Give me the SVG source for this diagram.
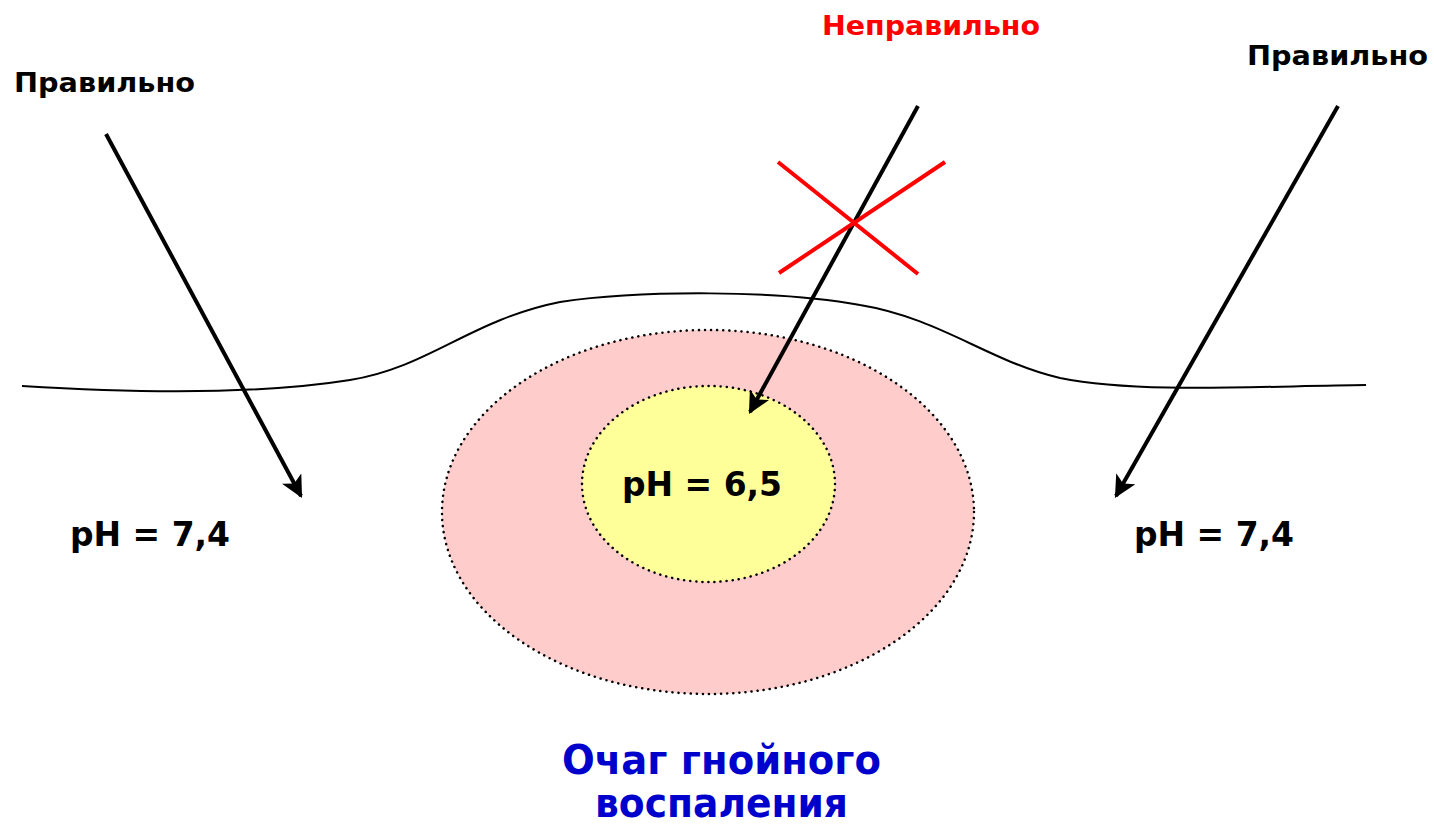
<svg xmlns="http://www.w3.org/2000/svg" width="1434" height="828" viewBox="0 0 1434 828">
<defs>
<style>
text{font-family:"DejaVu Sans","Liberation Sans",sans-serif;font-weight:bold}
.lbl{font-size:27px;fill:#000}
.ph{font-size:33px;fill:#000}
.cap{font-size:40px;fill:#0000CC}
.arr{stroke:#000;stroke-width:4;fill:none;marker-end:url(#ah)}
.zone{stroke:#000;stroke-width:2.5;stroke-dasharray:0.1 6;stroke-linecap:round}
</style>
<marker id="ah" viewBox="0 0 10 10" refX="9" refY="5" markerWidth="5.5" markerHeight="5.5" markerUnits="strokeWidth" orient="auto">
<path d="M0,0 L10,5 L0,10 L2.5,5 z" fill="#000"/>
</marker>
</defs>
<rect width="1434" height="828" fill="#fff"/>
<g id="skin">
<path d="M22,386 C120,392 250,396 350,380 C430,367 470,320 560,302 C640,290 780,290 860,305 C940,318 990,362 1060,378 C1140,394 1260,386 1366,385" fill="none" stroke="#000" stroke-width="2"/>
</g>
<g id="outer-zone">
<ellipse class="zone" cx="708" cy="512" rx="266" ry="182" fill="#FFCCCC"/>
</g>
<g id="inner-zone">
<ellipse class="zone" cx="708.5" cy="484" rx="126.5" ry="98" fill="#FFFF99"/>
<text class="ph" x="622" y="496" textLength="160" lengthAdjust="spacingAndGlyphs">pH = 6,5</text>
</g>
<g id="connectors">
<line class="arr" x1="106" y1="134" x2="301" y2="496"/>
<line class="arr" x1="918" y1="106" x2="750" y2="412"/>
<line class="arr" x1="1338" y1="106" x2="1116" y2="496"/>
</g>
<g id="cross">
<line x1="778" y1="162" x2="918" y2="274" stroke="#FF0000" stroke-width="4"/>
<line x1="779" y1="273" x2="945" y2="162" stroke="#FF0000" stroke-width="4"/>
</g>
<g id="label-left">
<text class="lbl" x="14" y="92" textLength="181" lengthAdjust="spacingAndGlyphs">Правильно</text>
</g>
<g id="label-wrong">
<text class="lbl" x="822" y="35" style="fill:#FF0000" textLength="218" lengthAdjust="spacingAndGlyphs">Неправильно</text>
</g>
<g id="label-right">
<text class="lbl" x="1247" y="65" textLength="181" lengthAdjust="spacingAndGlyphs">Правильно</text>
</g>
<g id="ph-left">
<text class="ph" x="70" y="546" textLength="160" lengthAdjust="spacingAndGlyphs">pH = 7,4</text>
</g>
<g id="ph-right">
<text class="ph" x="1134" y="546" textLength="160" lengthAdjust="spacingAndGlyphs">pH = 7,4</text>
</g>
<g id="caption">
<text class="cap" x="562" y="774" textLength="319" lengthAdjust="spacingAndGlyphs">Очаг гнойного</text>
<text class="cap" x="595" y="817" textLength="253" lengthAdjust="spacingAndGlyphs">воспаления</text>
</g>
</svg>
